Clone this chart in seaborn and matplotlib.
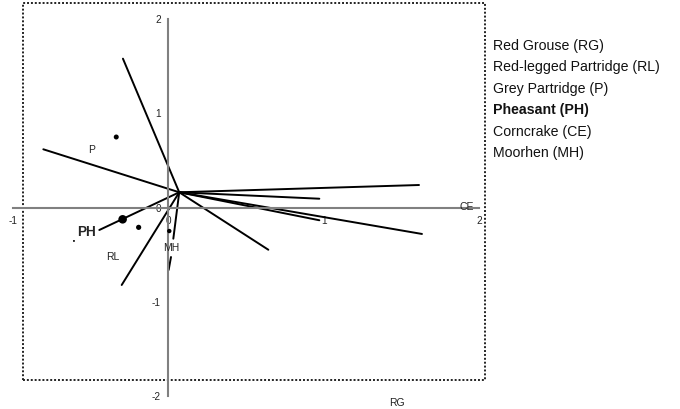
import pandas as pd
import matplotlib
matplotlib.use("Agg")
import matplotlib.pyplot as plt
from matplotlib.patches import Rectangle
import seaborn as sns

# biplot vectors: all start at a common origin
origin = (0.069, 0.161)
vec_x = [-0.293, -0.805, 1.611, 0.970, 1.630, 0.970, 0.642, -0.301, 0.031, -0.445]
vec_y = [1.575, 0.616, 0.238, 0.093, -0.280, -0.135, -0.447, -0.820, -0.330, -0.238]

# short stray segment under MH
stray_x = [0.001, 0.016]
stray_y = [-0.661, -0.524]

# species points
pt_names = ["P", "PH", "RL", "MH", "extra"]
pt_x = [-0.336, -0.295, -0.192, 0.005, -0.608]
pt_y = [0.746, -0.125, -0.210, -0.249, -0.354]
pt_size = [13, 38, 14, 10, 2]

# point labels
lab_text = ["P", "PH", "RL", "MH"]
lab_x = [-0.492, -0.526, -0.361, 0.016]
lab_y = [0.612, -0.262, -0.521, -0.425]

legend_items = ["Red Grouse (RG)", "Red-legged Partridge (RL)", "Grey Partridge (P)",
                "Pheasant (PH)", "Corncrake (CE)", "Moorhen (MH)"]

x_ticks = [-1, 0, 1, 2]
y_ticks = [-2, -1, 0, 1, 2]

sns.set_style("white")
plt.rcParams['font.family'] = ['Liberation Sans', 'DejaVu Sans']

fig = plt.figure(figsize=(6.8, 4.09), dpi=100)
ax = fig.add_axes([0, 0, 1, 1])
ax.set_xlim(-1.0836, 3.2894)
ax.set_ylim(-2.1323, 2.1958)
ax.patch.set_alpha(0)

# axes crossing at zero
for s in ["top", "right"]:
    ax.spines[s].set_visible(False)
ax.spines["left"].set_position(("data", 0))
ax.spines["bottom"].set_position(("data", 0))
ax.spines["left"].set_bounds(-2, 2)
ax.spines["bottom"].set_bounds(-1, 2)
for s in ["left", "bottom"]:
    ax.spines[s].set_color("#808080")
    ax.spines[s].set_linewidth(1.5)
ax.set_xticks(x_ticks)
ax.set_yticks(y_ticks)
ax.set_xticklabels([str(t) for t in x_ticks])
ax.set_yticklabels([str(t) for t in y_ticks])
ax.tick_params(axis="both", direction="inout", length=5, width=1.0, color="#555555",
               labelsize=7.2, labelcolor="#222222")
ax.tick_params(axis="x", pad=3.5)
ax.tick_params(axis="y", pad=3)

# vectors
rows = []
for i, (ex, ey) in enumerate(zip(vec_x, vec_y)):
    rows.append({"vec": i, "x": origin[0], "y": origin[1], "o": 0})
    rows.append({"vec": i, "x": ex, "y": ey, "o": 1})
rows.append({"vec": 99, "x": stray_x[0], "y": stray_y[0], "o": 0})
rows.append({"vec": 99, "x": stray_x[1], "y": stray_y[1], "o": 1})
vec_df = pd.DataFrame(rows)
sns.lineplot(data=vec_df, x="x", y="y", units="vec", estimator=None, sort=False,
             color="black", lw=1.4, ax=ax)

# points
pts = pd.DataFrame({"name": pt_names, "x": pt_x, "y": pt_y, "s": pt_size})
sns.scatterplot(data=pts, x="x", y="y", s=pts["s"], color="black", edgecolor="black",
                linewidth=0, ax=ax, legend=False, zorder=5)

for t, x, y in zip(lab_text, lab_x, lab_y):
    if t == "PH":
        ax.text(x, y, t, fontsize=9.8, fontweight="bold", ha="center", va="center")
    else:
        ax.text(x, y, t, fontsize=7.5, ha="center", va="center", color="#222222")

ax.text(1.92, 0.005, "CE", fontsize=7.5, ha="center", va="center", color="#222222")
ax.text(1.468, -2.072, "RG", fontsize=7.5, ha="center", va="center", color="#222222")
ax.set_xlabel("")
ax.set_ylabel("")

# dotted plot frame
ax.add_patch(Rectangle((23 / 680, 29 / 409), 462 / 680, 377 / 409, transform=ax.transAxes,
                       fill=False, ls=(0, (1, 1)), lw=1.4, edgecolor="#222222", zorder=0))

# side legend as text
for i, item in enumerate(legend_items):
    ypx = 46 + i * 21.4
    fig.text(493 / 680, 1 - ypx / 409, item, fontsize=10.2, va="center", ha="left",
             color="#111111",
             fontweight="bold" if item.startswith("Pheasant") else "normal")

fig.savefig("out.png", dpi=100)
